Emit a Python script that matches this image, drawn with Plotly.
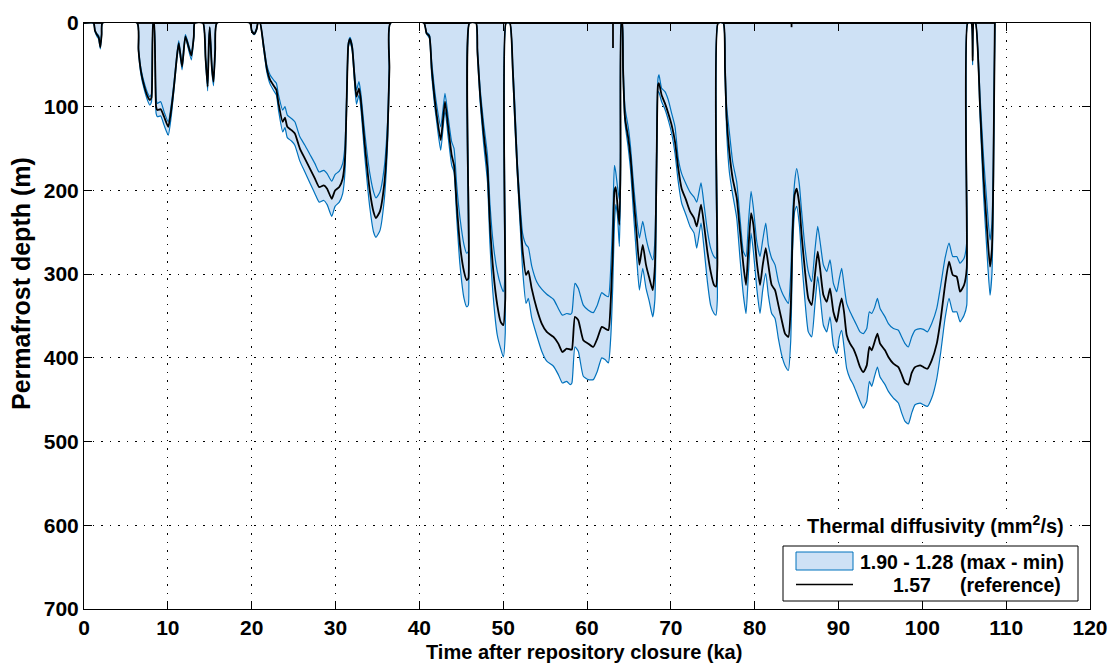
import plotly.graph_objects as go

# ---------------------------------------------------------------------------
# Permafrost depth through time for three thermal diffusivity cases
# ---------------------------------------------------------------------------

# Time after repository closure (ka); one line per permafrost episode
time_ka = [
    0.0,
    1.15, 1.3, 1.55, 1.75, 1.95, 2.1, 2.2,
    6.35, 6.5, 6.8, 7.2, 7.6, 7.85, 8.05, 8.25,
    8.35, 8.6, 8.75, 9.15, 9.55, 10.05, 10.4, 10.75, 11.05, 11.3, 11.7, 12.1, 12.8, 13.1, 13.2,
    14.2, 14.5, 14.75, 14.9, 15.0, 15.25, 15.45, 15.65, 15.85,
    19.8, 20.0, 20.3, 20.6, 20.75,
    21.0, 21.4, 21.8, 22.2, 22.7, 22.95, 23.2, 23.7, 23.97, 24.25,
    24.75, 25.15, 25.75, 26.35, 26.95, 27.55, 28.05, 28.6, 29.0, 29.55,
    29.95, 30.45, 30.85, 31.13, 31.33, 31.53, 31.73, 32.0, 32.25, 32.5,
    32.8, 33.0, 33.5, 34.1, 34.55, 34.83, 35.3, 35.8, 36.2, 36.43,
    36.55,
    40.55, 40.85, 41.2, 41.47, 41.8, 42.07, 42.55, 43.06, 43.46, 43.86, 44.14, 44.46, 44.85, 45.33, 45.65, 45.85, 45.97,
    46.77, 46.93, 47.25, 47.65, 48.13, 48.43, 48.83, 49.3, 49.7, 50.02, 50.25, 50.34,
    50.8, 51.14, 51.41, 51.69, 52.0, 52.33, 52.73, 53.0, 53.4, 54.0,
    54.6, 55.2, 56.0, 56.58, 57.06, 57.58, 58.0, 58.2, 58.56, 58.96,
    59.56, 60.16, 60.75, 61.23, 61.76, 62.15, 62.55, 62.83, 63.07, 63.27,
    63.43, 63.63, 63.86, 64.0, 64.1,
    64.2, 64.3, 64.54, 64.93, 65.21, 65.53, 65.93, 66.25, 66.65, 67.04,
    67.44, 67.84, 68.1, 68.32, 68.47, 68.59, 68.9, 69.3, 69.7, 70.1,
    70.5, 70.89, 71.29, 71.8, 72.29, 72.77, 73.09, 73.6, 73.96, 74.36,
    74.75, 75.15, 75.39, 75.55, 75.63,
    76.27, 76.46, 76.66, 76.98, 77.38, 77.86, 78.25, 78.65, 78.97, 79.25,
    79.57, 79.85, 80.25, 80.64, 80.95, 81.32, 81.63, 82.03, 82.43, 82.83,
    83.23, 83.62, 84.02, 84.3, 84.53, 84.77, 85.01, 85.33, 85.6, 86.01,
    86.4, 86.8, 87.2, 87.52, 87.8, 88.2, 88.6, 88.99, 89.39, 89.79,
    90.1, 90.38, 90.66, 90.98, 91.38, 91.77, 92.17, 92.57, 92.97, 93.37,
    93.68, 93.96, 94.3, 94.64, 94.96, 95.55, 95.95, 96.55, 97.14, 97.54,
    97.94, 98.33, 98.73, 99.13, 99.73, 100.13, 100.6, 101.12, 101.72, 102.2,
    102.71, 103.19, 103.63, 104.1, 104.5, 104.98, 105.3, 105.4,
    105.85, 106.0, 106.12,
    106.35, 106.9, 107.3, 107.7, 108.07, 108.3, 108.47, 108.65,
]

# Permafrost depth (m), thermal diffusivity 1.28 mm2/s (minimum)
depth_min_kappa = [
    0,
    0, 8, 13, 15, 26, 12, 0,
    0, 30, 55, 72, 84, 88, 85, 0,
    0, 90, 96, 94, 106, 118, 98, 70, 40, 21, 48, 14, 36, 15, 0,
    0, 40, 72, 20, 5, 50, 66, 30, 0,
    0, 8, 12, 6, 0,
    0, 24, 50, 62, 69, 72, 86, 104, 100, 110,
    114, 118, 136, 146, 157, 168, 178, 176, 180, 189,
    181, 177, 168, 146, 86, 24, 17, 27, 57, 80,
    70, 82, 132, 180, 202, 209, 202, 174, 120, 48,
    0,
    0, 11, 14, 46, 78, 98, 124, 84, 114, 142, 150, 194, 233, 265, 275, 273, 0,
    0, 30, 78, 118, 158, 217, 265, 297, 313, 321, 290, 0,
    0, 48, 102, 166, 213, 252, 265, 268, 290, 309,
    318, 324, 330, 341, 349, 347, 348, 346, 311, 317,
    337, 343, 346, 337, 322, 325, 327, 293, 235, 170,
    178, 195, 211, 150, 0,
    0, 48, 102, 125, 150, 190, 233, 257, 237, 257,
    273, 283, 260, 140, 66, 62, 78, 82, 92, 108,
    124, 162, 180, 192, 202, 208, 214, 191, 217, 248,
    269, 279, 281, 260, 0,
    0, 48, 100, 130, 166, 190, 233, 273, 279, 240,
    201, 221, 261, 279, 260, 239, 265, 281, 289, 309,
    321, 329, 335, 300, 230, 190, 174, 193, 225, 269,
    297, 309, 270, 243, 261, 289, 297, 283, 311, 321,
    305, 293, 313, 335, 345, 353, 361, 369, 371, 365,
    345, 347, 340, 329, 341, 351, 359, 365, 367, 375,
    383, 387, 375, 367, 365, 366, 369, 359, 341, 313,
    281, 263, 279, 279, 287, 281, 261, 0,
    0, 40, 0,
    0, 90, 160, 215, 259, 240, 160, 0,
]

# Permafrost depth (m), thermal diffusivity 1.57 mm2/s (reference)
depth_ref_kappa = [
    0,
    0, 9, 14, 17, 29, 14, 0,
    0, 32, 58, 76, 88, 92, 89, 0,
    0, 100, 104, 103, 112, 124, 104, 74, 43, 24, 52, 16, 39, 16, 0,
    0, 42, 76, 22, 5, 53, 70, 32, 0,
    0, 9, 13, 7, 0,
    0, 26, 54, 68, 76, 80, 96, 118, 113, 124,
    128, 132, 150, 162, 174, 186, 196, 194, 198, 210,
    200, 196, 186, 162, 94, 26, 19, 30, 62, 88,
    78, 90, 146, 201, 226, 233, 225, 194, 134, 54,
    0,
    0, 12, 16, 54, 88, 110, 140, 94, 126, 158, 170, 217, 265, 297, 307, 305, 0,
    0, 34, 86, 130, 174, 241, 297, 337, 357, 361, 330, 0,
    0, 54, 114, 174, 225, 273, 301, 296, 317, 341,
    359, 369, 375, 383, 393, 389, 390, 390, 351, 355,
    379, 383, 387, 377, 363, 365, 367, 333, 273, 201,
    196, 217, 241, 170, 0,
    0, 54, 114, 138, 162, 205, 253, 289, 265, 289,
    305, 319, 290, 154, 74, 72, 86, 96, 108, 122,
    142, 174, 198, 211, 225, 233, 243, 217, 241, 273,
    297, 313, 315, 290, 0,
    0, 54, 114, 154, 186, 209, 249, 289, 313, 270,
    227, 241, 285, 313, 290, 269, 289, 313, 319, 337,
    355, 371, 375, 340, 249, 205, 198, 217, 253, 297,
    329, 337, 300, 273, 293, 325, 333, 317, 345, 357,
    340, 329, 345, 373, 383, 389, 399, 411, 417, 409,
    387, 391, 381, 371, 383, 391, 399, 407, 411, 420,
    430, 432, 418, 411, 409, 411, 413, 403, 383, 353,
    313, 285, 301, 303, 321, 313, 293, 0,
    0, 45, 0,
    0, 104, 184, 244, 291, 270, 184, 0,
]

# Permafrost depth (m), thermal diffusivity 1.90 mm2/s (maximum)
depth_max_kappa = [
    0,
    0, 10, 16, 19, 31, 15, 0,
    0, 34, 62, 80, 93, 98, 94, 0,
    0, 108, 112, 111, 122, 134, 112, 78, 46, 27, 56, 18, 44, 18, 0,
    0, 45, 81, 24, 6, 57, 75, 34, 0,
    0, 10, 14, 8, 0,
    0, 29, 58, 73, 82, 86, 104, 130, 125, 137,
    141, 146, 165, 178, 191, 204, 214, 212, 217, 231,
    219, 214, 204, 178, 102, 29, 22, 34, 68, 97,
    86, 99, 160, 221, 250, 256, 248, 213, 147, 59,
    0,
    0, 13, 18, 62, 96, 118, 152, 104, 138, 170, 178, 233, 289, 329, 339, 337, 0,
    0, 38, 94, 142, 190, 265, 329, 373, 389, 399, 370, 0,
    0, 60, 124, 181, 237, 296, 335, 329, 352, 373,
    392, 404, 410, 420, 430, 428, 432, 430, 387, 392,
    422, 426, 426, 416, 400, 402, 406, 376, 315, 240,
    217, 229, 267, 190, 0,
    0, 60, 120, 150, 177, 225, 281, 319, 293, 317,
    333, 351, 330, 170, 82, 83, 94, 103, 116, 132,
    156, 190, 215, 229, 243, 251, 269, 239, 269, 309,
    337, 347, 349, 330, 0,
    0, 62, 130, 178, 205, 233, 281, 325, 347, 300,
    251, 273, 317, 347, 320, 299, 325, 347, 353, 377,
    397, 409, 415, 380, 270, 225, 219, 241, 281, 333,
    369, 375, 335, 303, 325, 361, 369, 351, 385, 395,
    375, 367, 387, 413, 425, 432, 442, 452, 460, 452,
    428, 434, 422, 411, 423, 432, 440, 448, 454, 466,
    476, 479, 466, 456, 454, 456, 458, 448, 425, 393,
    353, 329, 345, 345, 357, 349, 337, 0,
    0, 50, 0,
    0, 115, 205, 272, 325, 300, 210, 0,
]

# Short-lived thawing from the surface in the reference case
thaw_time_ka = [63.1, 84.4]
thaw_depth_m = [30, 5]

# Axis ticks
x_ticks = list(range(0, 121, 10))
y_ticks = list(range(0, 701, 100))

assert len(time_ka) == len(depth_min_kappa) == len(depth_ref_kappa) == len(depth_max_kappa)

BLUE = "rgb(0,114,189)"
FILL = "rgb(206,225,245)"
FONT = "Liberation Sans, Arial, Helvetica, sans-serif"

# Plot-area geometry in pixels (used to place titles and the key)
W_PX, H_PX = 1111, 664
L, R, T, B = 84, 1090, 23, 609


def fx(px):
    return (px - L) / (R - L)


def fy(py):
    return (B - py) / (B - T)


# Reference-case permafrost top: at the surface for each frozen episode
top_x, top_y = [], []
start = None
for i in range(1, len(time_ka)):
    if depth_ref_kappa[i - 1] == 0 and depth_ref_kappa[i] > 0:
        start = time_ka[i - 1]
    if depth_ref_kappa[i] == 0 and depth_ref_kappa[i - 1] > 0 and start is not None:
        top_x += [start, time_ka[i], None]
        top_y += [0, 0, None]
        start = None
for t, d in zip(thaw_time_ka, thaw_depth_m):
    top_x += [t, t, None]
    top_y += [0, d, None]

SMOOTH = dict(shape="spline", smoothing=0.5)

fig = go.Figure()

# Band: filled from the surface down to the deepest case
fig.add_trace(go.Scatter(
    x=time_ka, y=depth_max_kappa, mode="lines", fill="tozeroy",
    fillcolor=FILL, line=dict(color=BLUE, width=1.2, **SMOOTH), showlegend=False,
    hoverinfo="skip"))
fig.add_trace(go.Scatter(
    x=time_ka, y=depth_min_kappa, mode="lines",
    line=dict(color=BLUE, width=1.2, **SMOOTH), showlegend=False, hoverinfo="skip"))
fig.add_trace(go.Scatter(
    x=time_ka, y=depth_ref_kappa, mode="lines",
    line=dict(color="black", width=1.8, **SMOOTH), showlegend=False, hoverinfo="skip"))
fig.add_trace(go.Scatter(
    x=top_x, y=top_y, mode="lines",
    line=dict(color="black", width=1.8), showlegend=False, hoverinfo="skip"))

axis_common = dict(
    showline=True, linecolor="black", linewidth=1, mirror="allticks",
    ticks="inside", ticklen=8, tickcolor="black", tickwidth=1,
    showgrid=True, gridcolor="black", gridwidth=1, griddash="1.5px,7px",
    zeroline=False,
    tickfont=dict(family=FONT, size=21, color="black", weight="bold"),
)

fig.update_xaxes(range=[0, 120], tickvals=x_ticks, **axis_common)
fig.update_yaxes(range=[700, 0], tickvals=y_ticks, **axis_common)

txt = dict(family=FONT, color="black", weight="bold")
annotations = [
    dict(text="Time after repository closure (ka)", x=fx(584), y=fy(652),
         xref="paper", yref="paper", showarrow=False, font=dict(size=20, **txt),
         xanchor="center", yanchor="middle"),
    dict(text="Permafrost depth (m)", x=fx(21), y=fy(284), textangle=-90,
         xref="paper", yref="paper", showarrow=False, font=dict(size=25, **txt),
         xanchor="center", yanchor="middle"),
    dict(text="Thermal diffusivity (mm<sup>2</sup>/s)", x=fx(935), y=fy(524),
         xref="paper", yref="paper", showarrow=False, font=dict(size=20, **txt),
         xanchor="center", yanchor="middle", bgcolor="white"),
    dict(text="1.90 - 1.28", x=fx(906), y=fy(561.5), xref="paper", yref="paper",
         showarrow=False, font=dict(size=19.5, **txt), xanchor="center", yanchor="middle"),
    dict(text="(max - min)", x=fx(1012), y=fy(561.5), xref="paper", yref="paper",
         showarrow=False, font=dict(size=19.5, **txt), xanchor="center", yanchor="middle"),
    dict(text="1.57", x=fx(911.5), y=fy(585), xref="paper", yref="paper",
         showarrow=False, font=dict(size=19.5, **txt), xanchor="center", yanchor="middle"),
    dict(text="(reference)", x=fx(1010.5), y=fy(585), xref="paper", yref="paper",
         showarrow=False, font=dict(size=19.5, **txt), xanchor="center", yanchor="middle"),
]

shapes = [
    # key frame
    dict(type="rect", xref="paper", yref="paper", x0=fx(783), x1=fx(1078),
         y0=fy(601), y1=fy(546), fillcolor="white", line=dict(color="black", width=1),
         layer="above"),
    # band swatch
    dict(type="rect", xref="paper", yref="paper", x0=fx(796), x1=fx(853),
         y0=fy(570), y1=fy(552), fillcolor=FILL, line=dict(color=BLUE, width=1),
         layer="above"),
    # reference line swatch
    dict(type="line", xref="paper", yref="paper", x0=fx(796), x1=fx(853),
         y0=fy(584.5), y1=fy(584.5), line=dict(color="black", width=1.5),
         layer="above"),
]

fig.update_layout(
    width=W_PX, height=H_PX,
    margin=dict(l=L, r=W_PX - R, t=T, b=H_PX - B, autoexpand=False),
    paper_bgcolor="white", plot_bgcolor="white",
    showlegend=False,
    annotations=annotations, shapes=shapes,
)

fig.write_html("out.html")
